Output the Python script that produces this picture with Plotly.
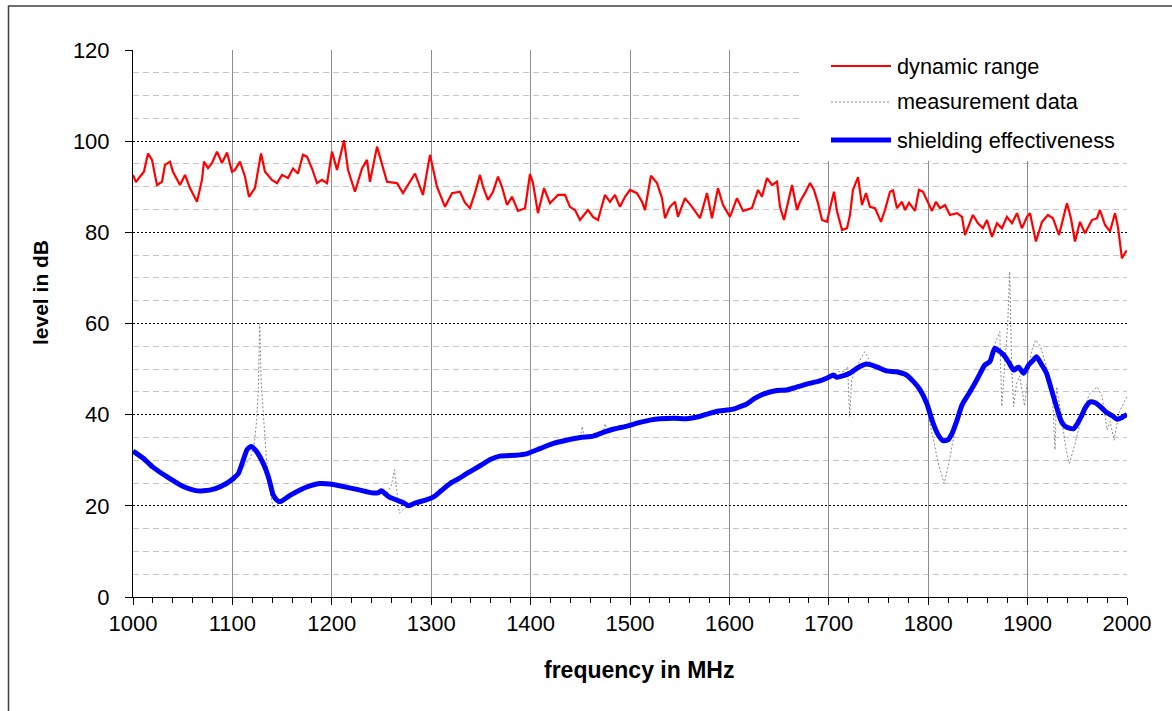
import plotly.graph_objects as go

# ---------------- data ----------------
dr_freq = [1000, 1003, 1007, 1011, 1015.1, 1019.1, 1024.1, 1029.2, 1032.2, 1037.2, 1040.2, 1047.3, 1052.3,
           1057.3, 1064.4, 1069.4, 1071.4, 1075.5, 1079.5, 1084.5, 1089.5, 1094.6, 1099.6, 1102.6, 1107.6,
           1112.7, 1116.7, 1122.7, 1128.8, 1132.8, 1139.8, 1144.9, 1149.9, 1155.9, 1161, 1166, 1171, 1175,
           1180.1, 1185.1, 1190.1, 1195.2, 1200.2, 1205.2, 1212.3, 1216.3, 1223.3, 1230.4, 1235.4, 1238.4,
           1245.5, 1250.5, 1255.5, 1265.6, 1271.6, 1283.7, 1291.7, 1298.8, 1305.8, 1313.9, 1320.9, 1328.9,
           1334, 1339, 1344, 1349.1, 1352.1, 1357.1, 1362.2, 1367.2, 1371.2, 1376.3, 1381.3, 1387.3, 1394.4,
           1399.4, 1402.4, 1407.4, 1413.5, 1419.5, 1427.6, 1434.6, 1439.6, 1444.7, 1449.7, 1457.7, 1462.8,
           1467.8, 1474.8, 1479.9, 1484.9, 1489.9, 1495, 1500, 1507, 1512.1, 1515.1, 1521.1, 1527.2, 1532.2,
           1535.2, 1540.2, 1545.3, 1548.3, 1555.3, 1562.4, 1570.4, 1577.5, 1582.5, 1588.5, 1593.6, 1600.6,
           1607.6, 1613.7, 1622.7, 1628.8, 1632.8, 1637.8, 1642.9, 1647.9, 1650.9, 1654.9, 1663, 1668, 1671,
           1676, 1681.1, 1685.1, 1689.1, 1693.2, 1698.2, 1701.2, 1705.2, 1708.2, 1713.3, 1718.3, 1721.3,
           1724.3, 1729.4, 1733.4, 1737.4, 1741.4, 1746.5, 1752.5, 1756.5, 1761.6, 1764.6, 1768.6, 1773.6,
           1776.7, 1780.7, 1786.7, 1790.7, 1794.8, 1798.8, 1803.8, 1807.8, 1811.9, 1816.9, 1821.9, 1829,
           1834, 1837, 1840, 1845, 1850.1, 1855.1, 1859.1, 1864.2, 1869.2, 1874.2, 1879.2, 1884.3, 1889.3,
           1894.3, 1899.4, 1902.4, 1908.4, 1914.5, 1920.5, 1925.5, 1931.6, 1935.6, 1939.6, 1943.6, 1947.7,
           1952.7, 1957.7, 1964.8, 1969.8, 1972.8, 1977.9, 1982.9, 1987.9, 1990.9, 1994.9, 1998.9, 2000]
dr_level = [92.6, 91.0, 92.2, 93.3, 97.3, 95.9, 90.4, 91.1, 94.8, 95.5, 93.3, 90.4, 92.6,
            89.7, 86.7, 91.5, 95.5, 94.1, 95.2, 97.7, 95.2, 97.5, 93.3, 93.7, 95.5,
            92.2, 87.8, 89.7, 97.3, 93.3, 91.5, 90.8, 92.6, 91.9, 94.0, 92.9, 97.0, 96.6,
            94.0, 90.8, 91.5, 90.8, 97.7, 93.7, 100.2, 93.7, 88.9, 94.0, 95.9, 91.1,
            98.8, 95.1, 91.1, 90.8, 88.6, 92.9, 88.2, 97.0, 90.0, 85.6, 88.6, 88.9,
            86.5, 85.3, 88.6, 92.6, 90.0, 87.1, 88.9, 92.2, 90.0, 86.0, 87.8, 84.7, 85.3,
            92.8, 90.8, 84.2, 89.7, 86.4, 88.2, 88.2, 85.6, 84.9, 82.7, 84.9, 83.4,
            82.7, 88.2, 86.7, 88.2, 85.6, 87.8, 89.3, 88.6, 86.7, 84.9, 92.4, 90.8, 87.5,
            83.1, 85.6, 86.7, 83.4, 87.5, 85.6, 83.1, 88.6, 83.1, 89.7, 86.0, 83.4,
            87.5, 84.7, 85.3, 89.3, 87.8, 91.9, 90.4, 91.1, 85.6, 82.7, 90.4, 84.9, 86.7,
            88.6, 90.8, 89.3, 86.4, 82.7, 82.3, 85.3, 88.9, 84.7, 80.5, 80.9, 83.8,
            89.3, 92.1, 86.0, 88.6, 85.6, 85.3, 82.3, 84.9, 88.9, 89.2, 85.3, 86.7,
            84.9, 86.5, 84.7, 89.3, 88.9, 87.1, 84.7, 86.7, 85.3, 86.0, 83.8, 84.2,
            83.4, 79.4, 81.2, 83.8, 82.0, 80.9, 82.7, 79.0, 82.0, 80.9, 83.4, 82.0, 84.2,
            80.9, 83.4, 84.2, 78.0, 82.3, 83.8, 83.1, 79.4, 82.7, 86.4, 83.1, 78.0,
            82.3, 79.8, 82.7, 83.1, 84.9, 81.6, 80.2, 84.2, 81.2, 74.3, 75.8, 76.0]

se_freq = [1000, 1010, 1020, 1034, 1050, 1062, 1071, 1083, 1094, 1101, 1106, 1111, 1115, 1119, 1124,
           1131, 1136, 1139, 1141, 1145, 1148, 1158, 1168, 1178, 1188, 1198, 1208, 1225, 1242, 1247,
           1250, 1254, 1258, 1266, 1272, 1277, 1285, 1295, 1302, 1310, 1319, 1328, 1336, 1350, 1360,
           1369, 1385, 1396, 1410, 1423, 1436, 1450, 1463, 1473, 1483, 1497, 1510, 1520, 1530, 1545,
           1557, 1570, 1580, 1587, 1604, 1610, 1617, 1625, 1634, 1647.6, 1657.6, 1667, 1677.7, 1691,
           1700, 1704.5, 1708, 1714, 1721, 1730, 1738, 1748, 1758, 1768, 1778, 1785, 1792, 1798.5,
           1805, 1810, 1815, 1820, 1824, 1829, 1834, 1840, 1845, 1851, 1857, 1862, 1867, 1871, 1876,
           1881, 1886, 1891, 1896, 1901, 1905, 1909, 1914, 1919, 1924, 1929, 1934, 1938, 1946, 1950,
           1954, 1958, 1963, 1968, 1973, 1980, 1985, 1990, 1995, 2000]
se_level = [32.0, 30.5, 28.5, 26.4, 24.3, 23.4, 23.3, 23.8, 24.9, 26.0, 27.1, 30.1, 32.4, 33.0, 32.0,
            29.3, 26.5, 24.0, 22.4, 21.2, 20.9, 22.3, 23.5, 24.4, 24.9, 24.8, 24.4, 23.6, 22.8, 22.9,
            23.3, 22.6, 21.9, 21.2, 20.7, 20.0, 20.7, 21.3, 21.9, 23.3, 24.9, 26.0, 27.1, 28.9, 30.2,
            30.9, 31.1, 31.4, 32.6, 33.7, 34.4, 35.0, 35.3, 36.1, 36.8, 37.5, 38.3, 38.8, 39.1, 39.2,
            39.1, 39.6, 40.3, 40.7, 41.2, 41.7, 42.3, 43.5, 44.5, 45.3, 45.4, 46.0, 46.7, 47.4,
            48.2, 48.7, 48.2, 48.5, 49.1, 50.4, 51.1, 50.5, 49.6, 49.4, 48.7, 47.3, 45.4, 42.5,
            38.1, 35.6, 34.3, 34.5, 35.9, 38.8, 42.1, 44.3, 46.1, 48.5, 50.9, 51.6, 54.6, 54.0, 53.1,
            51.5, 49.8, 50.4, 49.1, 50.9, 51.8, 52.7, 51.0, 49.1, 45.5, 41.8, 38.5, 37.4, 36.9, 38.0,
            39.6, 41.5, 42.8, 42.6, 41.8, 40.4, 39.8, 39.0, 39.4, 40.1]

md_freq = [1000, 1010, 1020, 1034, 1050, 1062, 1071, 1083, 1094, 1101, 1106, 1112, 1118, 1122, 1124.5,
           1126, 1127.5, 1129, 1131, 1134, 1137, 1141, 1145, 1150, 1158, 1168, 1178, 1188, 1198, 1208,
           1225, 1242, 1250, 1256, 1260, 1263, 1266, 1268, 1272, 1277, 1285, 1295, 1302, 1310, 1319,
           1328, 1336, 1350, 1360, 1369, 1385, 1396, 1410, 1423, 1436, 1450, 1452, 1454, 1463, 1473,
           1475, 1477, 1483, 1497, 1510, 1520, 1530, 1545, 1557, 1570, 1580, 1587, 1604, 1610, 1617,
           1625, 1634, 1647.6, 1657.6, 1667, 1677.7, 1691, 1700, 1704.5, 1710, 1716, 1719, 1721, 1723,
           1728, 1736, 1742, 1748, 1758, 1768, 1778, 1785, 1792, 1798.5, 1805, 1810, 1816, 1821, 1826,
           1834, 1840, 1845, 1851, 1857, 1862, 1867, 1872, 1874, 1877, 1880, 1882, 1884, 1886, 1889,
           1892, 1895, 1897, 1900, 1904, 1908, 1913, 1919, 1925, 1927.6, 1929.3, 1935, 1939, 1942, 1947,
           1955, 1962, 1970, 1975, 1980, 1983, 1987, 1992, 2000]
md_level = [32.0, 30.5, 28.5, 26.4, 24.3, 23.4, 23.3, 23.8, 24.9, 26.0, 27.0, 28.8, 30.5, 33.5, 39.0,
            45.0, 60.0, 47.0, 40.0, 31.0, 24.5, 19.5, 20.3, 21.2, 22.3, 23.5, 24.4, 24.9, 24.8, 24.4,
            23.6, 22.8, 23.3, 23.0, 24.5, 27.9, 21.5, 18.4, 19.2, 20.0, 20.7, 21.3, 21.9, 23.3, 24.9,
            26.0, 27.1, 28.9, 30.2, 30.9, 31.1, 31.4, 32.6, 33.7, 34.4, 35.0, 37.4, 35.1, 35.3, 36.1,
            38.0, 36.3, 36.8, 37.5, 38.3, 38.8, 39.1, 39.2, 39.1, 39.6, 40.3, 40.7, 41.2, 41.7, 42.3,
            43.5, 44.5, 45.3, 45.4, 46.0, 46.7, 47.4, 48.2, 48.7, 49.5, 49.5, 50.5, 39.6, 47.5,
            50.5, 53.8, 51.5, 50.5, 49.6, 49.4, 48.7, 47.3, 45.4, 41.5, 34.5, 29.5, 24.9, 29.5, 35.5,
            42.1, 44.3, 46.1, 48.5, 51.0, 52.5, 55.5, 58.2, 41.8, 52.0, 60.0, 71.4, 50.0, 41.8, 47.0,
            48.5, 44.5, 41.9, 48.0, 54.0, 56.4, 55.0, 50.5, 44.0, 32.3, 46.1, 38.0, 32.0, 29.3, 33.0,
            40.0, 44.5, 46.1, 44.0, 36.6, 38.5, 34.4, 40.5, 44.0]

series_names = ["dynamic range", "measurement data", "shielding effectiveness"]
x_title = "frequency in MHz"
y_title = "level in dB"

# ---------------- geometry helpers (layout only) ----------------
W, H = 1172, 711
L, R, T, B = 133, 1127, 50, 597


def px(x):
    return (x - L) / (R - L)


def py(y):
    return (B - y) / (B - T)


FONT = "Liberation Sans, Arial, sans-serif"

fig = go.Figure()
fig.add_trace(go.Scatter(x=dr_freq, y=dr_level, mode="lines", name=series_names[0],
                         line=dict(color="#ff0000", width=2.2)))
fig.add_trace(go.Scatter(x=md_freq, y=md_level, mode="lines", name=series_names[1],
                         line=dict(color="#8a8a8a", width=1, dash="2px,2px")))
fig.add_trace(go.Scatter(x=se_freq, y=se_level, mode="lines", name=series_names[2],
                         line=dict(color="#0000ff", width=5, shape="spline", smoothing=0.6)))

fig.update_layout(
    width=W, height=H,
    margin=dict(l=L, r=W - R, t=T, b=H - B),
    paper_bgcolor="white", plot_bgcolor="white",
    showlegend=False,
    font=dict(family=FONT, color="black"),
)

fig.update_xaxes(
    range=[1000, 2000], tickmode="linear", tick0=1000, dtick=100,
    ticks="outside", ticklen=7, tickcolor="black", tickwidth=1,
    showline=True, linecolor="black", linewidth=1,
    showgrid=True, gridcolor="#8c8c8c", gridwidth=1, zeroline=False,
    tickfont=dict(size=22, family=FONT, color="black"),
    minor=dict(dtick=20, tick0=1000, ticks="outside", ticklen=5, tickcolor="black", showgrid=False),
)
fig.update_yaxes(
    range=[0, 120], tickmode="linear", tick0=0, dtick=20,
    ticks="outside", ticklen=7, tickcolor="black", tickwidth=1,
    showline=True, linecolor="black", linewidth=1,
    showgrid=True, gridcolor="#000000", gridwidth=1, griddash="2px,2px", zeroline=False,
    tickfont=dict(size=22, family=FONT, color="black"),
    ticklabelstandoff=11,
    minor=dict(dtick=5, tick0=0, showgrid=True, gridcolor="#c4c4c4", griddash="6px,4px", ticks=""),
)

shapes = []
annotations = []
# outer frame (partially visible)
shapes.append(dict(type="rect", xref="paper", yref="paper",
                   x0=px(8.5), x1=px(1190), y0=py(725), y1=py(6),
                   line=dict(color="#404040", width=1.5), fillcolor="rgba(0,0,0,0)", layer="above"))
# legend background covering gridlines
shapes.append(dict(type="rect", xref="paper", yref="paper",
                   x0=px(800), x1=px(1135), y0=py(161), y1=py(44),
                   line=dict(width=0), fillcolor="white", layer="above"))
# legend samples
leg_rows = [66, 102, 140]
leg_styles = [dict(color="#ff0000", width=2),
              dict(color="#8a8a8a", width=1, dash="2px,2px"),
              dict(color="#0000ff", width=5)]
for yy, st, name in zip(leg_rows, leg_styles, series_names):
    shapes.append(dict(type="line", xref="paper", yref="paper",
                       x0=px(831), x1=px(891), y0=py(yy), y1=py(yy), line=st, layer="above"))
    annotations.append(dict(text=name, xref="paper", yref="paper", x=px(895), y=py(yy),
                            xanchor="left", yanchor="middle", showarrow=False,
                            font=dict(size=21.7, family=FONT, color="black")))

# axis titles
annotations.append(dict(text="<b>" + x_title + "</b>", xref="paper", yref="paper",
                        x=px(639), y=py(670), xanchor="center", yanchor="middle", showarrow=False,
                        font=dict(size=23, family=FONT, color="black")))
annotations.append(dict(text="<b>" + y_title + "</b>", xref="paper", yref="paper",
                        x=px(40), y=py(293), xanchor="center", yanchor="middle", showarrow=False,
                        textangle=-90, font=dict(size=21, family=FONT, color="black")))

fig.update_layout(shapes=shapes, annotations=annotations)

fig.write_html("out.html", config={"displayModeBar": False},
               post_script="document.body.style.margin='0';")
